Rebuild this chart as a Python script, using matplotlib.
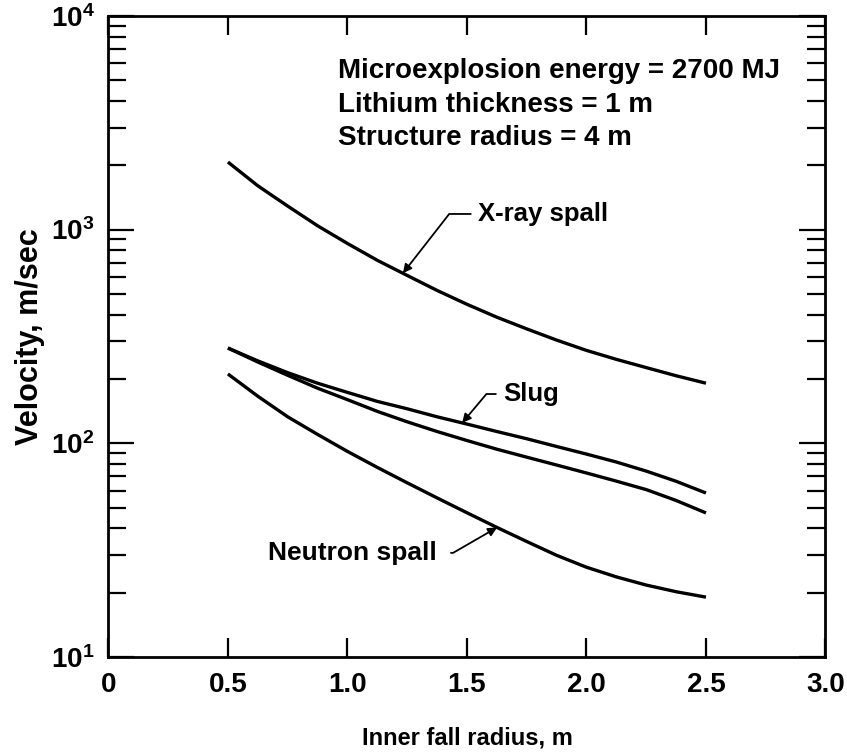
import matplotlib
matplotlib.use("Agg")
import matplotlib.pyplot as plt
import numpy as np
from matplotlib.ticker import LogLocator, FixedLocator, FixedFormatter, NullFormatter

plt.rcParams['font.family'] = ['Liberation Sans', 'DejaVu Sans']
plt.rcParams['font.weight'] = 'bold'
plt.rcParams['mathtext.fontset'] = 'custom'
plt.rcParams['mathtext.rm'] = 'Liberation Sans'
plt.rcParams['mathtext.default'] = 'regular'

# inner fall radius, m
radius = [0.5, 0.625, 0.75, 0.875, 1.0, 1.125, 1.25, 1.375, 1.5,
          1.625, 1.75, 1.875, 2.0, 2.125, 2.25, 2.375, 2.5]
# velocities, m/sec
xray_spall = [2070, 1603, 1288, 1042, 861, 718, 610, 519, 447,
              389, 343, 304, 272, 247, 226, 207, 191]
slug = [279, 243, 214, 191, 173, 157, 145, 133, 123,
        113.5, 105, 96.6, 89, 81.7, 74.1, 66.4, 58.5]
lower_curve = [279, 240, 208, 181, 160, 141, 126, 113.5, 103,
               93.8, 86.1, 79.1, 72.6, 66.5, 60.7, 54, 47.2]
neutron_spall = [211, 166, 133, 110, 91.6, 77.1, 65.3, 55.5, 47.3,
                 40.4, 34.7, 29.9, 26.3, 23.7, 21.7, 20.2, 19.05]

x_ticks = [0, 0.5, 1.0, 1.5, 2.0, 2.5, 3.0]
x_ticklabels = ['0', '0.5', '1.0', '1.5', '2.0', '2.5', '3.0']
y_ticks = [10, 100, 1000, 10000]
y_ticklabels = ['10$^1$', '10$^2$', '10$^3$', '10$^4$']

info = ["Microexplosion energy = 2700 MJ",
        "Lithium thickness = 1 m",
        "Structure radius = 4 m"]
info_y = [5117, 3548, 2488]

fig = plt.figure(figsize=(8.47, 7.56), dpi=100)
ax = fig.add_axes([0.128, 0.131, 0.8466, 0.848])

lw = 2.4
for ys in (xray_spall, slug, lower_curve, neutron_spall):
    ax.plot(radius, ys, color='black', lw=lw, solid_capstyle='butt')

ax.set_yscale('log')
ax.set_xlim(0, 3.0)
ax.set_ylim(10, 10000)

ax.xaxis.set_major_locator(FixedLocator(x_ticks))
ax.xaxis.set_major_formatter(FixedFormatter(x_ticklabels))
ax.yaxis.set_major_locator(FixedLocator(y_ticks))
ax.yaxis.set_major_formatter(FixedFormatter(y_ticklabels))
ax.yaxis.set_minor_locator(LogLocator(base=10, subs=np.arange(2, 10)))
ax.yaxis.set_minor_formatter(NullFormatter())

ax.tick_params(axis='both', which='both', direction='in', top=True, right=True,
               color='black', width=1.6)
ax.tick_params(axis='x', which='major', length=14, pad=11, labelsize=20)
ax.tick_params(axis='y', which='major', length=19, pad=10, labelsize=20)
ax.tick_params(axis='y', which='minor', length=13)
for s in ax.spines.values():
    s.set_linewidth(2.0)

ax.set_xlabel('Inner fall radius, m', fontsize=17, fontweight='bold', labelpad=20)
ax.set_ylabel('Velocity, m/sec', fontsize=22, fontweight='bold', labelpad=4)

for line, yv in zip(info, info_y):
    ax.text(0.962, yv, line, fontsize=20, fontweight='bold',
            ha='left', va='baseline')


def on_curve(xv, ys):
    return 10 ** np.interp(xv, radius, np.log10(ys))


arrow_kw = dict(arrowstyle='-|>', lw=1.3, color='black', mutation_scale=13,
                shrinkB=0)

ax.annotate('X-ray spall', xy=(1.232, on_curve(1.232, xray_spall)),
            xytext=(1.545, 1183), fontsize=18.5, fontweight='bold',
            ha='left', va='center',
            arrowprops=dict(connectionstyle='angle,angleA=0,angleB=52,rad=0',
                            shrinkA=3, **arrow_kw))
ax.annotate('Slug', xy=(1.48, on_curve(1.48, slug)),
            xytext=(1.65, 170), fontsize=18.5, fontweight='bold',
            ha='left', va='center',
            arrowprops=dict(connectionstyle='angle,angleA=0,angleB=50,rad=0',
                            shrinkA=3, **arrow_kw))
ax.annotate('Neutron spall', xy=(1.626, on_curve(1.626, neutron_spall)),
            xytext=(1.375, 30.7), fontsize=19, fontweight='bold',
            ha='right', va='center',
            arrowprops=dict(connectionstyle='angle,angleA=0,angleB=30,rad=0',
                            shrinkA=8, **arrow_kw))

fig.savefig('out.png', dpi=100)
